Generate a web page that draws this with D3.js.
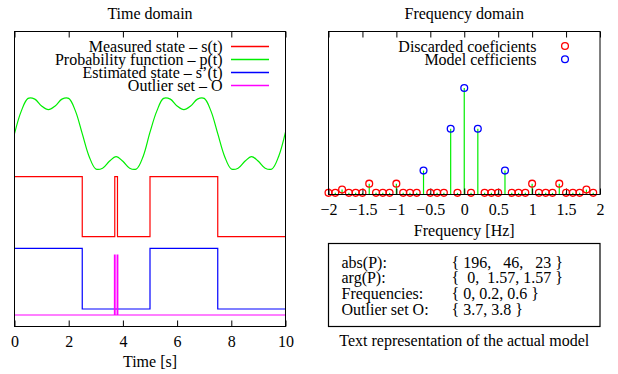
<!DOCTYPE html>
<html>
<head>
<meta charset="utf-8">
<script src="https://cdn.jsdelivr.net/npm/d3@7"></script>
<style>
  html, body { margin: 0; padding: 0; background: #fff; }
  svg { display: block; font-family: 'Liberation Serif', 'Times New Roman', serif; }
</style>
</head>
<body>
<div id="chart"></div>
<script>
// ---- time domain (left) ----
// p(t) every 0.25 s, 0 = trough, 1 = crest
const probValues = [
  0.50, 0.81, 0.985, 0.975, 0.88, 0.83, 0.88, 0.975, 0.985, 0.81,
  0.50, 0.19, 0.015, 0.025, 0.12, 0.185, 0.12, 0.025, 0.015, 0.19,
  0.52, 0.81, 0.985, 0.975, 0.88, 0.83, 0.88, 0.975, 0.985, 0.81,
  0.50, 0.19, 0.015, 0.025, 0.12, 0.185, 0.12, 0.025, 0.015, 0.19,
  0.52
];
const probStep = 0.25;

const measuredTimes = [0, 2.5, 3.7, 3.8, 5, 7.5, 10];
const measuredState = [1, 0, 1, 0, 1, 0, 0];
const estimatedTimes = [0, 2.5, 5, 7.5, 10];
const estimatedState = [1, 0, 1, 0, 0];
const outlierTimes = [3.7, 3.8];

const timeTicks = [0, 2, 4, 6, 8, 10];
const timeLegend = ['Measured state \u2013 s(t)', 'Probability function \u2013 p(t)', 'Estimated state \u2013 s\u2019(t)', 'Outlier set \u2013 O'];
const timeColors = ['#ff0000', '#00ee00', '#0000ff', '#ff00ff'];

// ---- frequency domain (right) ----
const freqBins = d3.range(-20, 20).map(k => k / 10);   // -2.0 .. 1.9 Hz
const magnitudes = [
  3, 3, 9, 3, 3, 3, 20, 3, 3, 3,
  20, 3, 3, 3, 44, 3, 3, 3, 121, 3,
  196, 3, 121, 3, 3, 3, 44, 3, 3, 3,
  20, 3, 3, 3, 20, 3, 3, 3, 9, 3
];
const modelFreqs = [-0.6, -0.2, 0, 0.2, 0.6];
const freqTicks = [-2, -1.5, -1, -0.5, 0, 0.5, 1, 1.5, 2];
const freqLegend = ['Discarded coeficients', 'Model cefficients'];

// text box
const modelLabels = ['abs(P):', 'arg(P):', 'Frequencies:', 'Outlier set O:'];
const modelValues = ['{ 196,   46,   23 }', '{  0,  1.57, 1.57 }', '{ 0, 0.2, 0.6 }', '{ 3.7, 3.8 }'];

const W = 618, H = 374;
const svg = d3.select('#chart').append('svg').attr('width', W).attr('height', H);

const fontSize = 16;
const fmt = d => (d < 0 ? '\u2212' : '') + Math.abs(d);

// ================= left panel =================
const L = { x0: 14.5, x1: 285.5, y0: 31.5, y1: 326.5 };
const xTime = d3.scaleLinear().domain([0, 10]).range([L.x0, L.x1]);
// one band scale per trace, stacked inside the box
const yProb = d3.scaleLinear().domain([0, 1]).range([170, 97.3]);
const yMeasured = d3.scaleLinear().domain([0, 1]).range([236.7, 176.7]);
const yEstimated = d3.scaleLinear().domain([0, 1]).range([309, 248.3]);
const yOutlier = d3.scaleLinear().domain([0, 1]).range([315, 255]);

const left = svg.append('g');

// green probability curve
left.append('path')
  .datum(probValues.map((v, i) => [i * probStep, v]))
  .attr('fill', 'none')
  .attr('stroke', timeColors[1])
  .attr('stroke-width', 1.2)
  .attr('d', d3.line().x(d => xTime(d[0])).y(d => yProb(d[1])).curve(d3.curveCatmullRom));

// measured state
left.append('path')
  .datum(measuredTimes.map((t, i) => [t, measuredState[i]]))
  .attr('fill', 'none')
  .attr('stroke', timeColors[0])
  .attr('stroke-width', 1.2)
  .attr('d', d3.line().x(d => xTime(d[0])).y(d => yMeasured(d[1])).curve(d3.curveStepAfter));

// estimated state
left.append('path')
  .datum(estimatedTimes.map((t, i) => [t, estimatedState[i]]))
  .attr('fill', 'none')
  .attr('stroke', timeColors[2])
  .attr('stroke-width', 1.2)
  .attr('d', d3.line().x(d => xTime(d[0])).y(d => yEstimated(d[1])).curve(d3.curveStepAfter));

// outlier impulses
const outPts = [[0, 0]];
outlierTimes.forEach(t => {
  outPts.push([t - 0.012, 0], [t - 0.012, 1], [t + 0.012, 1], [t + 0.012, 0]);
});
outPts.push([10, 0]);
left.append('path')
  .datum(outPts)
  .attr('fill', 'none')
  .attr('stroke', timeColors[3])
  .attr('stroke-width', 1.2)
  .attr('d', d3.line().x(d => xTime(d[0])).y(d => yOutlier(d[1])));

// axes (ticks inside, top mirrored)
const tAxisB = left.append('g')
  .attr('transform', `translate(0,${L.y1})`)
  .call(d3.axisBottom(xTime).tickValues(timeTicks).tickSize(-6).tickPadding(9).tickFormat(fmt));
const tAxisT = left.append('g')
  .attr('transform', `translate(0,${L.y0})`)
  .call(d3.axisTop(xTime).tickValues(timeTicks).tickSize(-6).tickFormat(''));

left.append('rect')
  .attr('x', L.x0).attr('y', L.y0)
  .attr('width', L.x1 - L.x0).attr('height', L.y1 - L.y0)
  .attr('fill', 'none').attr('stroke', '#000').attr('stroke-width', 1);

// legend
const tLeg = left.append('g');
timeLegend.forEach((name, i) => {
  const y = 46.5 + i * 13;
  tLeg.append('text')
    .attr('x', 222.5).attr('y', y + 5.3)
    .attr('text-anchor', 'end')
    .attr('font-size', fontSize)
    .text(name);
  tLeg.append('line')
    .attr('x1', 231).attr('x2', 269)
    .attr('y1', y).attr('y2', y)
    .attr('stroke', timeColors[i])
    .attr('stroke-width', 1.5);
});

left.append('text')
  .attr('x', (L.x0 + L.x1) / 2).attr('y', 18.5)
  .attr('text-anchor', 'middle').attr('font-size', fontSize)
  .text('Time domain');
left.append('text')
  .attr('x', (L.x0 + L.x1) / 2).attr('y', 367)
  .attr('text-anchor', 'middle').attr('font-size', fontSize)
  .text('Time [s]');

// ================= right panel =================
const R = { x0: 328.5, x1: 600, y0: 31.5, y1: 194.5 };
const xFreq = d3.scaleLinear().domain([-2, 2]).range([R.x0, R.x1]);
const yMag = d3.scaleLinear().domain([0, 300]).range([R.y1, R.y0]);

const right = svg.append('g');
const coeffs = freqBins.map((f, i) => ({
  f, m: magnitudes[i], model: modelFreqs.some(v => Math.abs(v - f) < 1e-9)
}));

// stems
right.selectAll('.stem')
  .data(coeffs)
  .enter()
  .append('line')
  .attr('class', 'stem')
  .attr('x1', d => xFreq(d.f)).attr('x2', d => xFreq(d.f))
  .attr('y1', R.y1).attr('y2', d => yMag(d.m))
  .attr('stroke', '#00ee00')
  .attr('stroke-width', 1.2);

const fAxisB = right.append('g')
  .attr('transform', `translate(0,${R.y1})`)
  .call(d3.axisBottom(xFreq).tickValues(freqTicks).tickSize(-6).tickPadding(9).tickFormat(fmt));
const fAxisT = right.append('g')
  .attr('transform', `translate(0,${R.y0})`)
  .call(d3.axisTop(xFreq).tickValues(freqTicks).tickSize(-6).tickFormat(''));

// markers
right.selectAll('.coef')
  .data(coeffs)
  .enter()
  .append('circle')
  .attr('class', 'coef')
  .attr('cx', d => xFreq(d.f))
  .attr('cy', d => yMag(d.m))
  .attr('r', 3.4)
  .attr('fill', 'none')
  .attr('stroke', d => d.model ? '#0000ff' : '#ff0000')
  .attr('stroke-width', 1.3);

right.append('rect')
  .attr('x', R.x0).attr('y', R.y0)
  .attr('width', R.x1 - R.x0).attr('height', R.y1 - R.y0)
  .attr('fill', 'none').attr('stroke', '#000').attr('stroke-width', 1);

freqLegend.forEach((name, i) => {
  const y = 46 + i * 13.3;
  right.append('text')
    .attr('x', 536.5).attr('y', y + 5.5)
    .attr('text-anchor', 'end').attr('font-size', fontSize)
    .text(name);
  right.append('circle')
    .attr('cx', 565).attr('cy', y).attr('r', 3.4)
    .attr('fill', 'none')
    .attr('stroke', i === 0 ? '#ff0000' : '#0000ff')
    .attr('stroke-width', 1.3);
});

right.append('text')
  .attr('x', (R.x0 + R.x1) / 2).attr('y', 18.5)
  .attr('text-anchor', 'middle').attr('font-size', fontSize)
  .text('Frequency domain');
right.append('text')
  .attr('x', (R.x0 + R.x1) / 2).attr('y', 235.5)
  .attr('text-anchor', 'middle').attr('font-size', fontSize)
  .text('Frequency [Hz]');

// style axes
[tAxisB, tAxisT, fAxisB, fAxisT].forEach(a => {
  a.attr('font-family', null).attr('font-size', fontSize);
  a.select('.domain').remove();
  a.selectAll('line').attr('stroke', '#000');
  a.selectAll('text').attr('fill', '#000');
});

// ================= text box =================
const B = { x0: 328.5, x1: 600, y0: 243.5, y1: 326.5 };
right.append('rect')
  .attr('x', B.x0).attr('y', B.y0)
  .attr('width', B.x1 - B.x0).attr('height', B.y1 - B.y0)
  .attr('fill', 'none').attr('stroke', '#000').attr('stroke-width', 1.2);

modelLabels.forEach((lab, i) => {
  const y = 267.5 + i * 15.8;
  right.append('text')
    .attr('x', 341.5).attr('y', y)
    .attr('font-size', fontSize)
    .text(lab);
  right.append('text')
    .attr('x', 451.5).attr('y', y)
    .attr('font-size', fontSize)
    .style('white-space', 'pre')
    .text(modelValues[i]);
});

right.append('text')
  .attr('x', (B.x0 + B.x1) / 2).attr('y', 345.5)
  .attr('text-anchor', 'middle').attr('font-size', fontSize)
  .text('Text representation of the actual model');
</script>
</body>
</html>
